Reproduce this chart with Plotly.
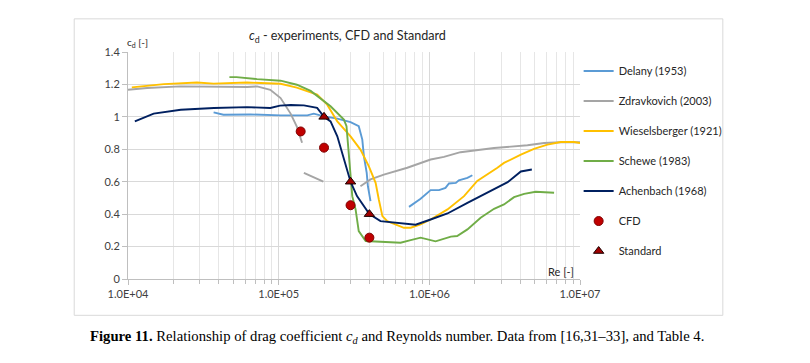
import plotly.graph_objects as go

# ---------------- data ----------------
delany_re = [3.7e4, 4.3e4, 6.5e4, 1.03e5, 1.55e5, 1.71e5, 2.0e5, 2.45e5, 3.0e5, 3.4e5, 3.59e5, 3.68e5, 3.84e5, 3.91e5, 4.07e5,
             None, 7.33e5, 8.75e5, 1.02e6, 1.16e6, 1.28e6, 1.35e6, 1.5e6, 1.57e6, 1.79e6, 1.93e6]
delany_cd = [1.028, 1.013, 1.015, 1.009, 1.009, 1.02, 1.003, 0.989, 0.968, 0.942, 0.86, 0.757, 0.655, 0.572, 0.48,
             None, 0.445, 0.495, 0.548, 0.548, 0.562, 0.589, 0.593, 0.609, 0.624, 0.64]

zdrav_re = [1.0e4, 1.34e4, 2.22e4, 3.7e4, 6.17e4, 7.2e4, 8.8e4, 1.03e5, 1.2e5, 1.32e5, 1.43e5,
            None, 1.47e5, 1.98e5,
            None, 3.49e5, 4.07e5, 4.99e5, 7.14e5, 1.02e6, 1.25e6, 1.61e6, 2.69e6, 4.48e6, 5.78e6, 7.45e6, 1.0e7]
zdrav_cd = [1.167, 1.178, 1.188, 1.184, 1.184, 1.188, 1.167, 1.116, 1.02, 0.94, 0.84,
            None, 0.655, 0.60,
            None, 0.572, 0.614, 0.644, 0.686, 0.737, 0.753, 0.782, 0.808, 0.825, 0.839, 0.843, 0.843]

wiesel_re = [1.06e4, 1.73e4, 2.87e4, 3.7e4, 6.17e4, 1.03e5, 1.32e5, 1.8e5, 2.1e5, 2.45e5, 3.0e5, 3.49e5, 3.97e5, 4.4e5,
             4.62e5, 4.88e5, 5.26e5, 6.78e5, 7.52e5, 8.75e5, 1.02e6, 1.32e6, 1.7e6, 2.08e6, 2.83e6, 3.13e6, 4.05e6,
             4.95e6, 6.08e6, 7.45e6, 9.12e6, 1.0e7]
wiesel_cd = [1.182, 1.202, 1.212, 1.205, 1.212, 1.204, 1.18, 1.137, 1.075, 0.972, 0.88, 0.798, 0.695, 0.593,
             0.49, 0.388, 0.357, 0.316, 0.316, 0.337, 0.367, 0.429, 0.511, 0.605, 0.686, 0.716, 0.767,
             0.802, 0.829, 0.845, 0.845, 0.839]

schewe_re = [4.71e4, 5.25e4, 7.19e4, 1.03e5, 1.32e5, 1.63e5, 2.21e5, 2.71e5, 2.82e5, 2.92e5, 3.0e5, 3.08e5, 3.24e5,
             3.4e5, 3.78e5, 4.99e5, 6.44e5, 7.52e5, 8.75e5, 1.1e6, 1.39e6, 1.53e6, 1.79e6, 2.19e6, 2.69e6, 3.13e6,
             3.65e6, 4.26e6, 5.08e6, 6.73e6]
schewe_cd = [1.245, 1.245, 1.233, 1.223, 1.198, 1.16, 1.065, 0.983, 0.942, 0.757, 0.593, 0.511, 0.429,
             0.295, 0.234, 0.228, 0.224, 0.24, 0.255, 0.232, 0.261, 0.265, 0.306, 0.378, 0.433, 0.46,
             0.505, 0.525, 0.538, 0.532]

achen_re = [1.11e4, 1.48e4, 2.24e4, 3.72e4, 6.17e4, 8.8e4, 1.02e5, 1.2e5, 1.47e5, 1.8e5, 2.0e5, 2.21e5, 2.45e5,
            2.71e5, 3.0e5, 3.31e5, 4.0e5, 4.74e5, 6.44e5, 8.11e5, 1.02e6, 1.32e6, 1.79e6, 2.43e6, 3.31e6, 4.05e6, 4.79e6]
achen_cd = [0.972, 1.02, 1.044, 1.055, 1.06, 1.055, 1.069, 1.073, 1.071, 1.055, 1.0, 0.972, 0.88,
            0.737, 0.6, 0.511, 0.4, 0.357, 0.347, 0.335, 0.367, 0.404, 0.47, 0.532, 0.597, 0.663, 0.675]

cfd_re = [1.4e5, 2.0e5, 3.0e5, 4.0e5]
cfd_cd = [0.91, 0.81, 0.455, 0.255]

std_re = [2.0e5, 3.0e5, 4.0e5]
std_cd = [1.0, 0.6, 0.4]

x_tickvals = [1e4, 1e5, 1e6, 1e7]
x_ticktext = ["1.0E+04", "1.0E+05", "1.0E+06", "1.0E+07"]

FONT = "Lato"
TXT = "#404040"

fig = go.Figure()

series = [
    ("Delany (1953)", delany_re, delany_cd, "#5B9BD5"),
    ("Zdravkovich (2003)", zdrav_re, zdrav_cd, "#A5A5A5"),
    ("Wieselsberger (1921)", wiesel_re, wiesel_cd, "#FFC000"),
    ("Schewe (1983)", schewe_re, schewe_cd, "#70AD47"),
    ("Achenbach (1968)", achen_re, achen_cd, "#002060"),
]
for name, xs, ys, col in series:
    fig.add_trace(go.Scatter(x=xs, y=ys, mode="lines", name=name, legendgroup=name,
                             line=dict(color=col, width=1.9), connectgaps=False))

fig.add_trace(go.Scatter(x=cfd_re, y=cfd_cd, mode="markers", name="CFD", legendgroup="CFD",
                         marker=dict(symbol="circle", size=9, color="#C00000",
                                     line=dict(color="#7F0000", width=1))))
fig.add_trace(go.Scatter(x=std_re, y=std_cd, mode="markers", name="Standard", legendgroup="Standard",
                         marker=dict(symbol="triangle-up", size=9, color="#A00000",
                                     line=dict(color="#1A0000", width=1))))

fig.update_layout(
    width=802, height=355,
    margin=dict(l=120, r=230, t=44, b=84),
    paper_bgcolor="white", plot_bgcolor="white",
    font=dict(family=FONT, size=11, color=TXT),
    showlegend=True,
    legend=dict(x=0.997, y=0.98, xanchor="left", yanchor="top",
                font=dict(family=FONT, size=11, color="#262626"),
                tracegroupgap=11, traceorder="grouped", bgcolor="rgba(0,0,0,0)"),
    xaxis=dict(type="log", range=[4, 7], tickmode="array", tickvals=x_tickvals, ticktext=x_ticktext,
               showgrid=True, gridcolor="#D9D9D9", gridwidth=1,
               showline=True, linecolor="#BFBFBF", ticks="outside", ticklen=5, tickcolor="#BFBFBF",
               minor=dict(dtick="D1", showgrid=True, gridcolor="#E6E6E6", ticks="outside", ticklen=4,
                          tickcolor="#BFBFBF"),
               tickfont=dict(family=FONT, size=11, color="#404040"), zeroline=False),
    yaxis=dict(range=[0, 1.4], dtick=0.2, tick0=0, showgrid=True, gridcolor="#D9D9D9",
               showline=True, linecolor="#BFBFBF", ticks="outside", ticklen=5, tickcolor="#BFBFBF",
               tickfont=dict(family=FONT, size=11, color="#404040"), zeroline=False),
)

# chart-area border
fig.add_shape(type="rect", xref="paper", yref="paper", x0=-0.119, x1=1.316, y0=-0.160, y1=1.146,
              line=dict(color="#D9D9D9", width=1), fillcolor="rgba(0,0,0,0)", layer="below")

fig.add_annotation(text="<i>c</i><sub>d</sub> - experiments, CFD and Standard", xref="paper", yref="paper",
                   x=0.4856, y=1.068, showarrow=False, xanchor="center", yanchor="middle",
                   font=dict(family=FONT, size=12.6, color="#262626"))
fig.add_annotation(text="c<sub>d</sub> [-]", xref="paper", yref="paper", x=0.0217, y=1.041,
                   showarrow=False, xanchor="center", yanchor="middle",
                   font=dict(family=FONT, size=10, color="#262626"))
fig.add_annotation(text="Re [-]", xref="paper", yref="paper", x=0.958, y=0.035,
                   showarrow=False, xanchor="center", yanchor="middle",
                   font=dict(family=FONT, size=11, color="#262626"))
fig.add_annotation(text="<b>Figure 11.</b> Relationship of drag coefficient <i>c<sub>d</sub></i> and Reynolds number. "
                        "Data from [16,31–33], and Table 4.",
                   xref="paper", yref="paper", x=-0.0879, y=-0.254, showarrow=False,
                   xanchor="left", yanchor="middle",
                   font=dict(family="Liberation Serif", size=14.7, color="#000000"))

fig.write_html("out.html")
